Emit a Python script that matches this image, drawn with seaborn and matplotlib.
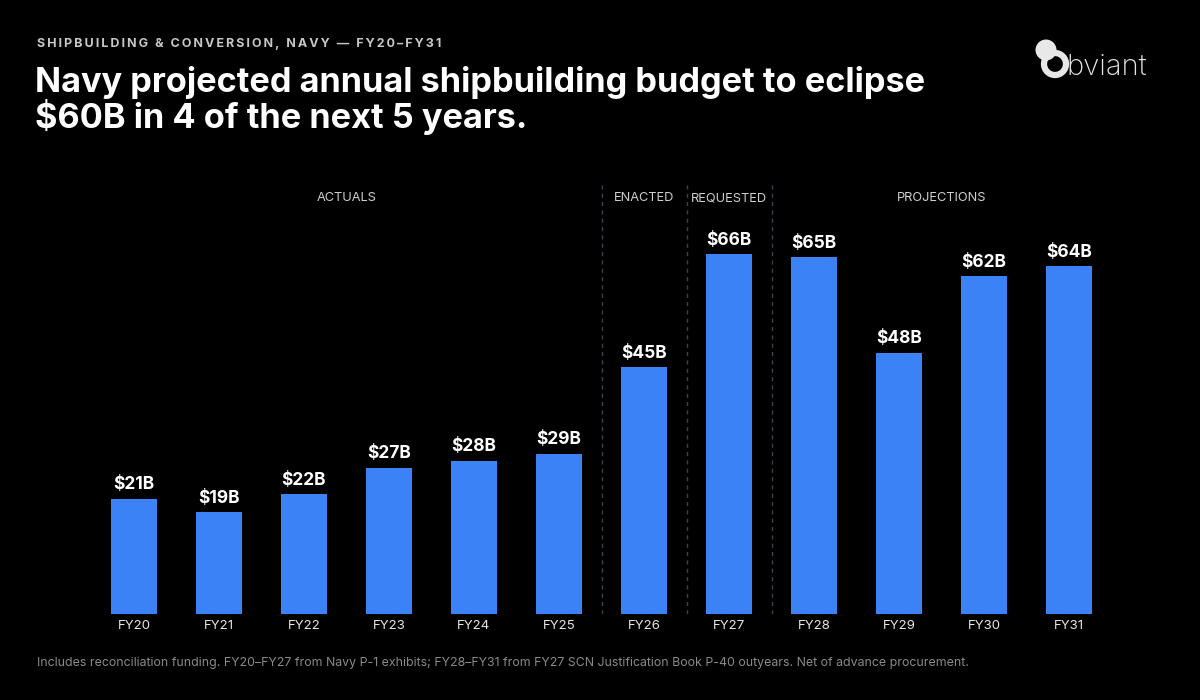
import numpy as np
import pandas as pd
import seaborn as sns
import matplotlib.pyplot as plt
from matplotlib.patches import Circle

# data (billions of dollars)
years = ["FY20", "FY21", "FY22", "FY23", "FY24", "FY25",
         "FY26", "FY27", "FY28", "FY29", "FY30", "FY31"]
budget = [21.1, 18.7, 22.0, 26.8, 28.1, 29.4, 45.3, 66.0, 65.4, 47.9, 62.0, 63.8]
value_labels = ["$21B", "$19B", "$22B", "$27B", "$28B", "$29B",
                "$45B", "$66B", "$65B", "$48B", "$62B", "$64B"]
group_names = ["ACTUALS", "ENACTED", "REQUESTED", "PROJECTIONS"]
group_spans = [(0, 5), (6, 6), (7, 7), (8, 11)]

BG = "#000000"
BLUE = "#3B82F6"

sns.set_theme(style="dark")
plt.rcParams["font.family"] = ["Inter", "DejaVu Sans"]

df = pd.DataFrame({"year": years, "budget": budget})

fig = plt.figure(figsize=(12, 7), dpi=100, facecolor=BG)
ax = fig.add_axes([0.07625, 0.1229, 0.85, 0.6129])
ax.set_facecolor(BG)

sns.barplot(data=df, x="year", y="budget", color=BLUE, saturation=1,
            width=0.55, linewidth=0, ax=ax)

ax.set_xlim(-0.5, len(years) - 0.5)
ax.set_ylim(0, 78.7)
ax.set_xlabel("")
ax.set_ylabel("")
ax.set_yticks([])
ax.tick_params(axis="x", length=0, colors="#e6e6e6", labelsize=9.5, pad=4)
for s in ax.spines.values():
    s.set_visible(False)
ax.grid(False)

# value labels on top of bars
for i, (v, lab) in enumerate(zip(budget, value_labels)):
    ax.text(i, v + 1.0, lab, ha="center", va="bottom", color="white",
            fontsize=12.5, fontweight="bold")

# dashed separators between groups
for sep in [5.5, 6.5, 7.5]:
    ax.axvline(sep, ymin=0, ymax=1, color="#3a4150", lw=1, ls=(0, (3, 3)))

# group headers
for name, (a, b) in zip(group_names, group_spans):
    ax.text((a + b) / 2, 76.3, name, ha="center", va="center",
            color="#cfcfcf", fontsize=9.2)

# header text
kicker = "SHIPBUILDING & CONVERSION, NAVY — FY20–FY31"
fig.text(0.031, 0.937, "\u2009".join(kicker),
         color="#c8c8c8", fontsize=9, fontweight="bold", ha="left", va="center")
fig.text(0.029, 0.857, "Navy projected annual shipbuilding budget to eclipse\n$60B in 4 of the next 5 years.",
         color="white", fontsize=24.7, fontweight="bold", ha="left", va="center",
         linespacing=1.0)

# footnote
fig.text(0.031, 0.053,
         "Includes reconciliation funding. FY20–FY27 from Navy P-1 exhibits; "
         "FY28–FY31 from FY27 SCN Justification Book P-40 outyears. Net of advance procurement.",
         color="#8a8a8a", fontsize=8.9, ha="left", va="center")

# logo
logo_ax = fig.add_axes([0, 0, 1, 1], facecolor="none")
logo_ax.set_xlim(0, 1200)
logo_ax.set_ylim(700, 0)
logo_ax.axis("off")
logo_ax.add_patch(Circle((1046, 50), 10.5, color="#e8e8e8", lw=0))
logo_ax.add_patch(Circle((1055, 64), 11, fill=False, ec="#e8e8e8", lw=4.5))
logo_ax.text(1066, 67, "bviant", color="#e8e8e8", fontsize=21,
             fontweight="light", ha="left", va="center")

fig.savefig("out.png", dpi=100, facecolor=BG)
